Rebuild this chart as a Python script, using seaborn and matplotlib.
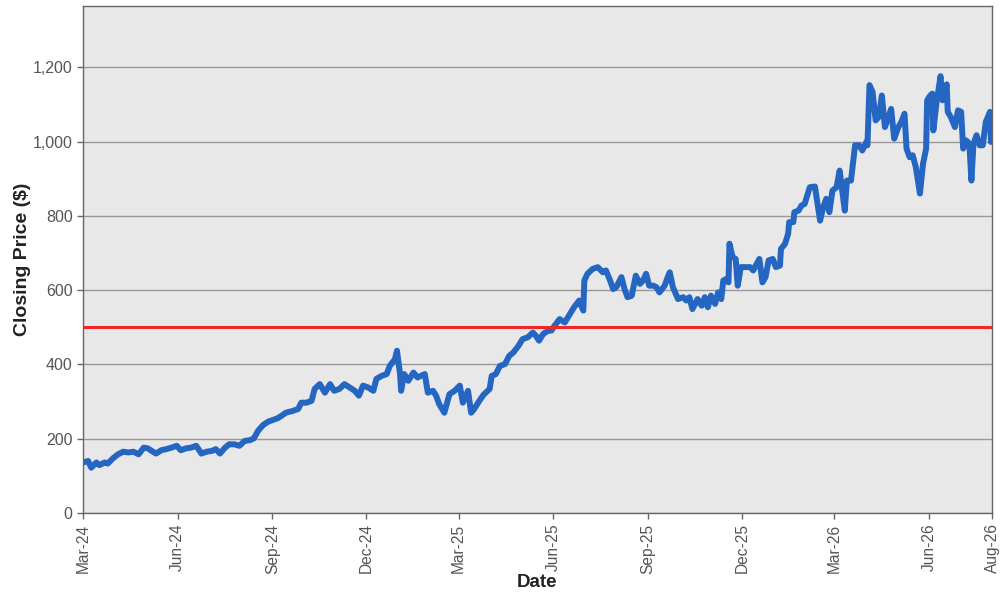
import pandas as pd
import matplotlib
matplotlib.use("Agg")
import matplotlib.pyplot as plt
import matplotlib.dates as mdates
import matplotlib.ticker as mticker
import seaborn as sns

# -----------------------
# Data
# -----------------------
dates = [
    "2024-03-01", "2024-03-06", "2024-03-09", "2024-03-14", "2024-03-17", "2024-03-22",
    "2024-03-25", "2024-03-30", "2024-04-04", "2024-04-09", "2024-04-14", "2024-04-19",
    "2024-04-24", "2024-04-29", "2024-05-03", "2024-05-08", "2024-05-11", "2024-05-16",
    "2024-05-21", "2024-05-26", "2024-05-31", "2024-06-04", "2024-06-09", "2024-06-14",
    "2024-06-19", "2024-06-24", "2024-06-29", "2024-07-04", "2024-07-08", "2024-07-12",
    "2024-07-17", "2024-07-21", "2024-07-26", "2024-07-31", "2024-08-05", "2024-08-10",
    "2024-08-14", "2024-08-18", "2024-08-23", "2024-08-28", "2024-09-01", "2024-09-06",
    "2024-09-10", "2024-09-14", "2024-09-21", "2024-09-26", "2024-09-29", "2024-10-04",
    "2024-10-09", "2024-10-12", "2024-10-17", "2024-10-22", "2024-10-27", "2024-10-31",
    "2024-11-05", "2024-11-10", "2024-11-15", "2024-11-20", "2024-11-24", "2024-11-28",
    "2024-12-03", "2024-12-08", "2024-12-11", "2024-12-16", "2024-12-21", "2024-12-24",
    "2024-12-29", "2024-12-31", "2025-01-03", "2025-01-04", "2025-01-07", "2025-01-11",
    "2025-01-16", "2025-01-20", "2025-01-27", "2025-01-30", "2025-02-04", "2025-02-07",
    "2025-02-10", "2025-02-15", "2025-02-20", "2025-02-25", "2025-03-02", "2025-03-05",
    "2025-03-10", "2025-03-13", "2025-03-16", "2025-03-21", "2025-03-25", "2025-03-31",
    "2025-04-02", "2025-04-06", "2025-04-10", "2025-04-15", "2025-04-19", "2025-04-23",
    "2025-04-28", "2025-05-02", "2025-05-07", "2025-05-12", "2025-05-15", "2025-05-18",
    "2025-05-22", "2025-05-27", "2025-05-30", "2025-06-02", "2025-06-07", "2025-06-12",
    "2025-06-17", "2025-06-21", "2025-06-26", "2025-06-30", "2025-07-01", "2025-07-04",
    "2025-07-09", "2025-07-14", "2025-07-19", "2025-07-22", "2025-07-26", "2025-07-29",
    "2025-08-01", "2025-08-06", "2025-08-09", "2025-08-12", "2025-08-16", "2025-08-20",
    "2025-08-24", "2025-08-27", "2025-08-30", "2025-09-02", "2025-09-06", "2025-09-09",
    "2025-09-12", "2025-09-17", "2025-09-20", "2025-09-22", "2025-09-25", "2025-09-30",
    "2025-10-05", "2025-10-08", "2025-10-11", "2025-10-14", "2025-10-19", "2025-10-23",
    "2025-10-26", "2025-10-29", "2025-11-01", "2025-11-05", "2025-11-08", "2025-11-11",
    "2025-11-13", "2025-11-16", "2025-11-18", "2025-11-19", "2025-11-22", "2025-11-25",
    "2025-11-27", "2025-11-30", "2025-12-05", "2025-12-09", "2025-12-12", "2025-12-18",
    "2025-12-21", "2025-12-24", "2025-12-27", "2025-12-31", "2026-01-03", "2026-01-07",
    "2026-01-08", "2026-01-12", "2026-01-15", "2026-01-16", "2026-01-20", "2026-01-21",
    "2026-01-25", "2026-01-28", "2026-01-31", "2026-02-05", "2026-02-10", "2026-02-15",
    "2026-02-18", "2026-02-21", "2026-02-24", "2026-02-27", "2026-03-03", "2026-03-06",
    "2026-03-11", "2026-03-13", "2026-03-17", "2026-03-21", "2026-03-25", "2026-03-28",
    "2026-04-01", "2026-04-02", "2026-04-04", "2026-04-07", "2026-04-10", "2026-04-13",
    "2026-04-16", "2026-04-19", "2026-04-22", "2026-04-25", "2026-04-28", "2026-05-02",
    "2026-05-05", "2026-05-08", "2026-05-10", "2026-05-13", "2026-05-16", "2026-05-19",
    "2026-05-23", "2026-05-26", "2026-05-29", "2026-05-30", "2026-06-02", "2026-06-04",
    "2026-06-05", "2026-06-08", "2026-06-12", "2026-06-14", "2026-06-18", "2026-06-19",
    "2026-06-22", "2026-06-26", "2026-06-29", "2026-07-02", "2026-07-04", "2026-07-07",
    "2026-07-10", "2026-07-12", "2026-07-14", "2026-07-17", "2026-07-20", "2026-07-23",
    "2026-07-26", "2026-07-30", "2026-07-31",
]

closing_price = [
    136, 140, 122, 136, 129, 136,
    133, 147, 158, 165, 163, 165,
    158, 176, 174, 165, 160, 169,
    172, 176, 181, 169, 174, 176,
    181, 160, 165, 167, 172, 160,
    176, 185, 185, 181, 194, 196,
    201, 221, 237, 246, 250, 255,
    262, 270, 275, 280, 297, 297,
    302, 334, 347, 324, 347, 329,
    334, 347, 338, 329, 316, 343,
    338, 329, 361, 369, 374, 396,
    414, 437, 374, 329, 374, 356,
    378, 365, 374, 324, 329, 316,
    293, 270, 320, 329, 343, 297,
    329, 270, 280, 302, 318, 334,
    369, 374, 396, 401, 423, 432,
    450, 468, 473, 486, 477, 464,
    482, 491, 491, 504, 522, 513,
    536, 554, 572, 545, 626, 644,
    657, 662, 648, 653, 626, 603,
    608, 635, 603, 581, 585, 639,
    617, 626, 644, 612, 612, 608,
    594, 612, 635, 648, 608, 576,
    581, 572, 581, 549, 576, 558,
    581, 554, 585, 563, 594, 576,
    626, 630, 621, 725, 689, 684,
    612, 662, 662, 662, 653, 684,
    621, 635, 680, 684, 662, 666,
    711, 725, 752, 783, 783, 810,
    814, 828, 832, 877, 879, 787,
    823, 846, 810, 868, 877, 922,
    814, 895, 895, 990, 990, 976,
    999, 990, 1152, 1133, 1057, 1066,
    1124, 1039, 1062, 1088, 1008, 1039,
    1053, 1075, 981, 958, 963, 931,
    860, 940, 981, 1111, 1124, 1129,
    1030, 1102, 1176, 1111, 1154, 1080,
    1066, 1039, 1084, 1080, 981, 1003,
    994, 895, 994, 1017, 990, 990,
    1053, 1080, 999,
]

threshold = 500

tick_dates = ["2024-03-01", "2024-06-01", "2024-09-01", "2024-12-01", "2025-03-01",
              "2025-06-01", "2025-09-01", "2025-12-01", "2026-03-01", "2026-06-01",
              "2026-08-01"]

df = pd.DataFrame({"Date": pd.to_datetime(dates), "Close": closing_price})

# -----------------------
# Style
# -----------------------
sns.set_theme(style="whitegrid", rc={
    "axes.facecolor": "#E8E8E8",
    "figure.facecolor": "white",
    "axes.edgecolor": "#666666",
    "grid.color": "#999999",
    "grid.linewidth": 1.0,
})
plt.rcParams["font.family"] = ["Liberation Sans", "DejaVu Sans"]

fig = plt.figure(figsize=(10, 6), dpi=100)
ax = fig.add_axes([0.083, 0.145, 0.909, 0.845])

sns.lineplot(data=df, x="Date", y="Close", ax=ax, color="#2466C2", linewidth=4.3)
ax.axhline(threshold, color="#F02828", linewidth=2.2, zorder=3)

# -----------------------
# Axes
# -----------------------
ax.set_xlim(pd.Timestamp("2024-03-01"), pd.Timestamp("2026-08-01"))
ax.set_ylim(0, 1365)
ax.set_yticks([0, 200, 400, 600, 800, 1000, 1200])
ax.yaxis.set_major_formatter(mticker.StrMethodFormatter("{x:,.0f}"))
ax.set_xticks(pd.to_datetime(tick_dates))
ax.xaxis.set_major_formatter(mdates.DateFormatter("%b-%y"))
ax.xaxis.grid(False)

ax.tick_params(axis="both", which="major", length=4, width=1, color="#666666",
               labelcolor="#555555", bottom=True, left=True)
ax.tick_params(axis="y", labelsize=11.5)
ax.tick_params(axis="x", labelsize=11.2, rotation=90)

for spine in ax.spines.values():
    spine.set_color("#666666")
    spine.set_linewidth(1.0)

ax.set_xlabel("Date", fontsize=13.5, fontweight="bold", color="#222222", labelpad=0)
ax.set_ylabel("Closing Price ($)", fontsize=14, fontweight="bold", color="#222222", labelpad=1)

fig.savefig("out.png", dpi=100)
